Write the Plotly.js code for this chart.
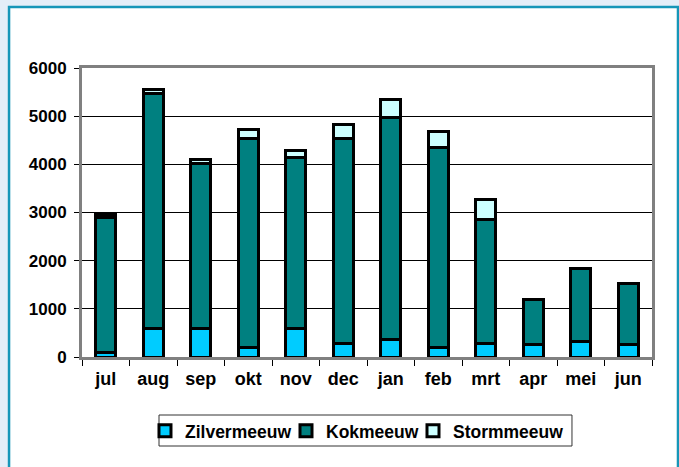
<!DOCTYPE html>
<html><head><meta charset="utf-8">
<script src="https://cdn.plot.ly/plotly-3.0.1.min.js"></script>
<style>html,body{margin:0;padding:0;background:#e4eef8;}#chart{width:679px;height:467px;}</style>
</head><body><div id="chart"></div>
<script>
const months = ["jul","aug","sep","okt","nov","dec","jan","feb","mrt","apr","mei","jun"];
const zilvermeeuw = [100, 600, 600, 200, 600, 280, 370, 200, 280, 250, 320, 250];
const kokmeeuw    = [2800, 4870, 3410, 4340, 3550, 4260, 4600, 4150, 2580, 940, 1520, 1280];
const stormmeeuw  = [50, 80, 100, 180, 140, 280, 370, 330, 400, 0, 0, 0];
const yTicks = [0, 1000, 2000, 3000, 4000, 5000, 6000];

const font = {family: "Liberation Sans, Arial, sans-serif", color: "#000"};
function tr(name, y, color, lg) {
  return {type: "bar", name: name, x: months, y: y, legend: lg,
    marker: {color: color, line: {color: "#000", width: 3}}, hoverinfo: "x+y"};
}
const data = [
  tr("Zilvermeeuw", zilvermeeuw, "#00CCFF", "legend"),
  tr("Kokmeeuw", kokmeeuw, "#008080", "legend2"),
  tr("Stormmeeuw", stormmeeuw, "#CCFFFF", "legend3")
];
function lg(x) {
  return {orientation: "h", x: x, xanchor: "left", y: -0.256, yanchor: "middle",
    borderwidth: 0, bgcolor: "rgba(0,0,0,0)",
    font: Object.assign({size: 17.5, weight: "bold"}, font)};
}
const layout = {
  width: 679, height: 467,
  margin: {l: 82, r: 27, t: 68, b: 110},
  paper_bgcolor: "rgba(0,0,0,0)", plot_bgcolor: "rgba(0,0,0,0)",
  barmode: "stack", bargap: 0.58,
  showlegend: true,
  legend: lg(0.1105), legend2: lg(0.3579), legend3: lg(0.5807),
  xaxis: {type: "category", showline: true, linecolor: "#808080", linewidth: 3, mirror: true,
    ticks: "outside", tickson: "boundaries", ticklen: 6, tickcolor: "#000", tickwidth: 1,
    ticklabelstandoff: 3,
    tickfont: Object.assign({size: 18, weight: "bold"}, font), showgrid: false, fixedrange: true},
  yaxis: {range: [0, 6000], tickvals: yTicks, ticktext: yTicks.map(String),
    showline: true, linecolor: "#808080", linewidth: 3, mirror: true,
    ticks: "outside", ticklen: 5, tickcolor: "#000", tickwidth: 1, ticklabelstandoff: 4,
    showgrid: true, gridcolor: "#000", gridwidth: 1, zeroline: false,
    tickfont: Object.assign({size: 17, weight: "bold"}, font), fixedrange: true},
  shapes: [
    {type: "rect", xref: "paper", yref: "paper", layer: "below",
      x0: -0.128, x1: 1.0456, y0: -0.45, y1: 1.211,
      fillcolor: "#fff", line: {color: "#1696b8", width: 2.5}},
    {type: "rect", xref: "paper", yref: "paper", layer: "below",
      x0: 0.1351, x1: 0.8596, y0: -0.308, y1: -0.2007,
      fillcolor: "#fff", line: {color: "#333", width: 1}}
  ]
};
Plotly.newPlot("chart", data, layout, {displayModeBar: false, staticPlot: true});
</script></body></html>
